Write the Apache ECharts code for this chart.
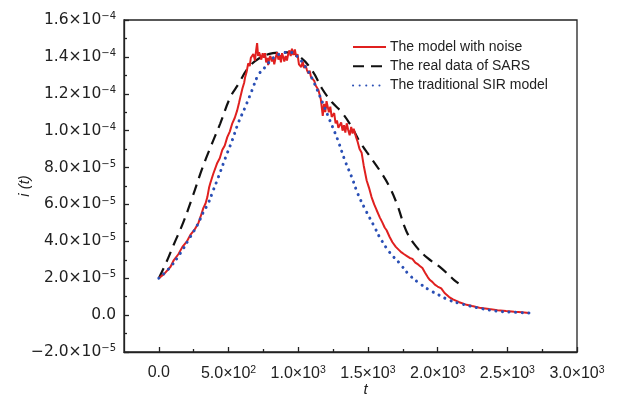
<!DOCTYPE html>
<html><head><meta charset="utf-8">
<script src="https://cdn.jsdelivr.net/npm/echarts@6/dist/echarts.min.js"></script>
<style>html,body{margin:0;padding:0;background:#fff}#c{width:630px;height:401px}</style>
</head><body><div id="c"></div>
<script>
// Red: the model with noise
const redT = [0,40,84,105,140,169,200,226,255,284,300,319,335,348,360,369,390,419,437,455,473,491,509,527,545,562,575,584,600,612,619,630,641,652,660,669,678,690,697,705,712,719,726,735,745,754,762,770,778,784,792,800,810,819,828,838,848,858,868,876,884,892,900,910,919,928,937,946,955,965,976,985,995,1005,1012,1022,1032,1042,1052,1062,1072,1082,1092,1105,1115,1125,1135,1145,1155,1162,1170,1176,1185,1194,1203,1212,1220,1230,1240,1248,1258,1268,1278,1288,1298,1308,1318,1328,1338,1348,1358,1369,1380,1390,1398,1405,1415,1426,1440,1455,1470,1491,1508,1526,1545,1562,1585,1605,1620,1634,1655,1676,1700,1720,1741,1760,1780,1800,1819,1840,1860,1875,1891,1910,1930,1945,1962,1980,2000,2026,2050,2083,2110,2155,2200,2248,2300,2369,2430,2491,2550,2605,2655];
const redI = [2.00e-5,2.25e-5,2.62e-5,2.95e-5,3.30e-5,3.70e-5,3.98e-5,4.35e-5,4.62e-5,5.00e-5,5.35e-5,5.80e-5,6.05e-5,6.40e-5,6.90e-5,7.15e-5,7.65e-5,8.25e-5,8.50e-5,8.95e-5,9.20e-5,9.65e-5,9.95e-5,10.40e-5,10.70e-5,11.10e-5,11.50e-5,11.80e-5,12.30e-5,12.60e-5,12.90e-5,13.20e-5,13.65e-5,13.50e-5,13.95e-5,13.90e-5,14.15e-5,13.80e-5,14.30e-5,14.75e-5,14.05e-5,14.25e-5,14.10e-5,13.85e-5,14.20e-5,13.95e-5,14.20e-5,13.70e-5,13.95e-5,13.55e-5,13.90e-5,14.05e-5,13.75e-5,14.00e-5,13.60e-5,13.95e-5,14.25e-5,13.85e-5,14.10e-5,13.70e-5,14.20e-5,14.00e-5,13.75e-5,14.05e-5,13.80e-5,14.15e-5,14.35e-5,14.05e-5,14.45e-5,14.10e-5,14.40e-5,14.00e-5,14.15e-5,13.60e-5,13.70e-5,13.45e-5,13.75e-5,13.40e-5,13.55e-5,13.30e-5,13.10e-5,13.25e-5,12.90e-5,12.85e-5,12.70e-5,12.45e-5,12.55e-5,12.20e-5,12.20e-5,11.70e-5,11.20e-5,10.80e-5,11.45e-5,11.00e-5,11.60e-5,11.50e-5,11.00e-5,11.30e-5,10.75e-5,10.70e-5,10.95e-5,10.40e-5,10.55e-5,10.15e-5,10.10e-5,10.45e-5,10.00e-5,10.30e-5,9.90e-5,10.40e-5,10.05e-5,9.75e-5,10.20e-5,9.85e-5,10.10e-5,10.20e-5,9.65e-5,9.40e-5,9.00e-5,8.80e-5,8.10e-5,7.30e-5,6.90e-5,6.40e-5,6.00e-5,5.70e-5,5.30e-5,5.00e-5,4.75e-5,4.60e-5,4.25e-5,3.95e-5,3.70e-5,3.55e-5,3.40e-5,3.30e-5,3.20e-5,3.10e-5,3.05e-5,2.85e-5,2.75e-5,2.65e-5,2.55e-5,2.30e-5,2.05e-5,1.90e-5,1.80e-5,1.65e-5,1.55e-5,1.45e-5,1.20e-5,0.98e-5,0.85e-5,0.70e-5,0.58e-5,0.49e-5,0.40e-5,0.33e-5,0.27e-5,0.22e-5,0.18e-5,0.16e-5,0.12e-5];
// Black dashed: the real data of SARS
const blackT = [0,50,105,176,241,312,376,441,512,569,641,726,819,919,1012,1105,1169,1241,1312,1384,1441,1491,1584,1655,1712,1776,1848,1927,2026,2119,2150];
const blackI = [2.0e-5,2.8e-5,3.79e-5,5.04e-5,6.40e-5,7.97e-5,9.2e-5,10.4e-5,11.8e-5,12.5e-5,13.4e-5,13.95e-5,14.2e-5,14.25e-5,14.0e-5,13.2e-5,12.3e-5,11.55e-5,11.0e-5,10.2e-5,9.4e-5,8.85e-5,7.85e-5,6.95e-5,5.95e-5,4.55e-5,3.7e-5,3.1e-5,2.55e-5,1.9e-5,1.72e-5];
// Blue dotted: the traditional SIR model
const blueT = [0,84,155,212,276,319,355,391,427,477,527,569,619,669,712,762,819,884,941,991,1048,1105,1176,1226,1284,1334,1384,1426,1476,1548,1584,1655,1726,1798,1869,1941,2012,2083,2176,2298,2419,2534,2670];
const blueI = [2.0e-5,2.62e-5,3.36e-5,4.07e-5,4.88e-5,5.58e-5,6.07e-5,6.78e-5,7.48e-5,8.51e-5,9.49e-5,10.4e-5,11.27e-5,12.2e-5,13.0e-5,13.44e-5,13.93e-5,14.2e-5,14.25e-5,14.04e-5,13.5e-5,12.74e-5,11.49e-5,10.57e-5,9.49e-5,8.40e-5,7.48e-5,6.61e-5,5.80e-5,4.77e-5,4.23e-5,3.41e-5,2.82e-5,2.17e-5,1.73e-5,1.36e-5,1.08e-5,0.81e-5,0.60e-5,0.38e-5,0.22e-5,0.16e-5,0.11e-5];

const seriesNames = ['The model with noise','The real data of SARS','The traditional SIR model'];
const xTicks = [0,500,1000,1500,2000,2500,3000];
const xMinorTicks = [250,750,1250,1750,2250,2750];

function zip(a,b){return a.map((v,i)=>[v,b[i]]);}
function sci(v){
  if (Math.abs(v) < 1e-12) return '0.0';
  const s = v.toExponential(1);
  const parts = s.split('e');
  const e = parseInt(parts[1],10);
  return parts[0].replace('-','\u2212') + '\u00d710{sup|' + String(e).replace('-','\u2212') + '}';
}
const FONT = 'Liberation Sans';
const YFONT = 'DejaVu Sans';

const chart = echarts.init(document.getElementById('c'), null, {renderer:'canvas'});
chart.setOption({
  animation:false,
  backgroundColor:'#fff',
  grid:{left:124,right:53,top:20,bottom:49,show:true,borderColor:'#222',borderWidth:1.3,backgroundColor:'transparent',
    containLabel:false, outerBoundsMode:'none'},
  legend:{
    orient:'vertical', left:347, top:35, itemWidth:33, itemHeight:12, itemGap:5.3,
    itemStyle:{opacity:0},
    textStyle:{fontFamily:FONT,fontSize:14,color:'#222',padding:[0,0,0,-1]},
    data:seriesNames
  },
  xAxis:[{
    type:'value', min:-250, max:3000,
    axisLine:{show:true,onZero:false,lineStyle:{color:'#222',width:1.3}},
    axisTick:{show:true,inside:true,length:5,customValues:xTicks,lineStyle:{color:'#222',width:1.3}},
    axisLabel:{customValues:xTicks,formatter:sci,fontFamily:FONT,fontSize:16,color:'#222',margin:13,
      rich:{sup:{fontSize:10.5,fontFamily:FONT,color:'#222',verticalAlign:'top',padding:[0,0,7,0]}}},
    splitLine:{show:false},
    name:'t', nameLocation:'middle', nameGap:30, nameMoveOverlap:false,
    nameTextStyle:{fontFamily:FONT,fontSize:15,fontStyle:'italic',color:'#222',padding:[0,0,0,30]}
  },{
    type:'value', min:-250, max:3000, position:'bottom',
    axisLine:{show:false,onZero:false},
    axisTick:{show:true,inside:true,length:3,customValues:xMinorTicks,lineStyle:{color:'#222',width:1.3}},
    axisLabel:{show:false}, splitLine:{show:false}
  }],
  yAxis:{
    type:'value', min:-2e-5, max:1.6e-4, interval:2e-5,
    axisLine:{show:true,onZero:false,lineStyle:{color:'#222',width:1.3}},
    axisTick:{show:true,inside:true,length:5,lineStyle:{color:'#222',width:1.3}},
    minorTick:{show:true,splitNumber:2,length:3,lineStyle:{color:'#222',width:1.3}},
    axisLabel:{formatter:sci,fontFamily:YFONT,fontSize:15.5,color:'#222',margin:8,
      rich:{sup:{fontSize:10,fontFamily:YFONT,color:'#222',verticalAlign:'top',padding:[0,0,7,0]}}},
    splitLine:{show:false},
    name:'i (t)', nameLocation:'middle', nameGap:92, nameMoveOverlap:false,
    nameTextStyle:{fontFamily:FONT,fontSize:15,fontStyle:'italic',color:'#222'}
  },
  series:[
    {name:seriesNames[0],type:'line',data:zip(redT,redI),symbol:'none',z:3,
     lineStyle:{color:'#e0201f',width:2},itemStyle:{color:'#e0201f'}},
    {name:seriesNames[1],type:'line',data:zip(blackT,blackI),symbol:'none',smooth:0.4,z:2,
     lineStyle:{color:'#111',width:2.2,type:[11,7]},itemStyle:{color:'#111'}},
    {name:seriesNames[2],type:'line',data:zip(blueT,blueI),symbol:'none',smooth:0.4,z:4,
     lineStyle:{color:'#2a4fb5',width:3,type:[0.1,6.5],cap:'round'},itemStyle:{color:'#2a4fb5'}}
  ]
});
</script></body></html>
